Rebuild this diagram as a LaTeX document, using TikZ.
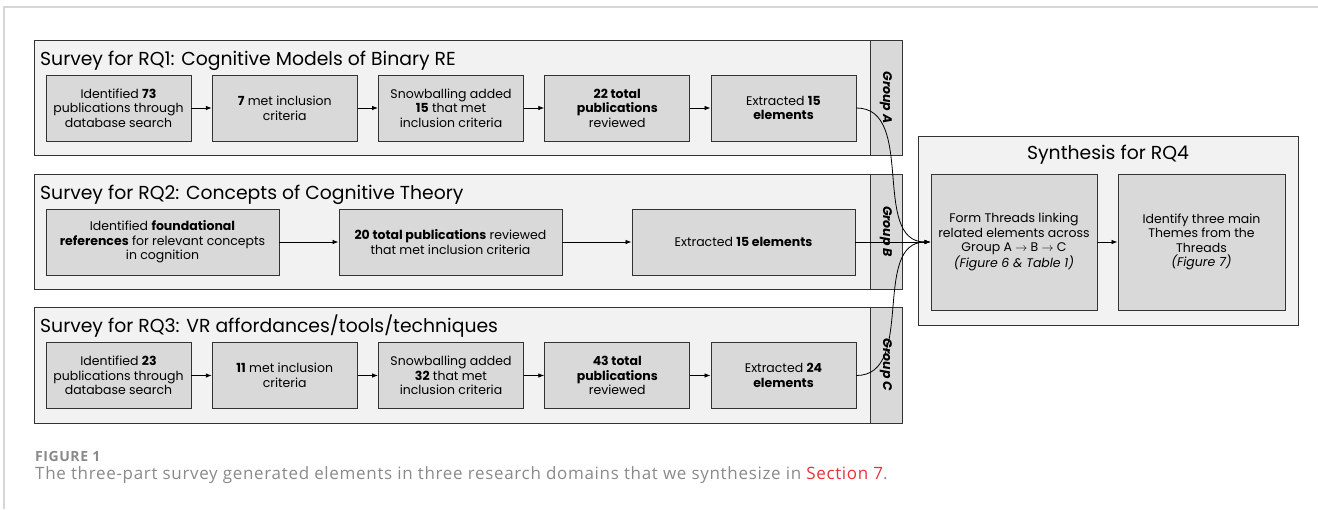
\documentclass[tikz,border=0pt]{standalone}
\usepackage{fontspec}
\setmainfont{Poppins}
\newfontfamily\capfont[LetterSpace=4]{Open Sans}
\usetikzlibrary{arrows.meta,positioning}

\definecolor{panelgray}{HTML}{F2F2F2}
\definecolor{boxgray}{HTML}{D9D9D9}
\definecolor{edgegray}{HTML}{333333}
\definecolor{framegray}{HTML}{D6D6D6}
\definecolor{capgray}{HTML}{8A8A8A}
\definecolor{linkred}{HTML}{E8333A}

\begin{document}
\begin{tikzpicture}[x=1pt,y=-1pt,
    panel/.style={draw=edgegray,fill=panelgray,line width=0.9pt,inner sep=0pt},
    stage/.style={draw=edgegray,fill=boxgray,line width=0.9pt,align=center,inner sep=2pt,
      minimum height=66pt,font=\fontsize{12.5}{14.6}\selectfont},
    tab/.style={draw=edgegray,fill=boxgray,line width=0.9pt,rotate=-90,minimum height=32pt,
      inner sep=0pt,font=\fontsize{12.5}{14}\selectfont\bfseries\itshape},
    head/.style={anchor=base west,inner sep=0pt,font=\fontsize{18.8}{20}\selectfont},
    flow/.style={-{Latex[length=6pt,width=4.5pt]},line width=0.8pt,draw=black}]
  \useasboundingbox (0,0) rectangle (1318,509);
  \draw[framegray,line width=1.5pt] (4,509) -- (4,7) -- (1318,7);

  \def\xstep{166.25}

  % three surveys
  \node[panel,minimum width=868pt,minimum height=115pt] (rq1) at (468,97.5) {};
  \node[panel,minimum width=868pt,minimum height=115pt] (rq2) at (468,231.5) {};
  \node[panel,minimum width=868pt,minimum height=116pt] (rq3) at (468,365) {};
  \node[head] at (40,65) {Survey for RQ1: Cognitive Models of Binary RE};
  \node[head] at (40,199) {Survey for RQ2: Concepts of Cognitive Theory};
  \node[head] at (40,332) {Survey for RQ3: VR affordances/tools/techniques};

  \node[tab,minimum width=115pt] (ga) at (886,97.5) {Group A};
  \node[tab,minimum width=115pt] (gb) at (886,231.5) {Group B};
  \node[tab,minimum width=116pt] (gc) at (886,365) {Group C};

  \foreach \txt [count=\i] in {{Identified \textbf{73}\\publications through\\database search},
      {\textbf{7} met inclusion\\criteria},
      {Snowballing added\\\textbf{15} that met\\inclusion criteria},
      {\textbf{22 total}\\\textbf{publications}\\reviewed},
      {Extracted \textbf{15}\\\textbf{elements}}}
    \node[stage,minimum width=145pt] (a\i) at ({118.5+\xstep*(\i-1)},108) {\txt};

  \node[stage,minimum width=233pt] (b1) at (162.5,242)
    {Identified \textbf{foundational}\\\textbf{references} for relevant concepts\\in cognition};
  \node[stage,minimum width=223pt] (b2) at (450.5,242)
    {\textbf{20 total publications} reviewed\\that met inclusion criteria};
  \node[stage,minimum width=223pt] (b3) at (743.5,242) {Extracted \textbf{15 elements}};

  \foreach \txt [count=\i] in {{Identified \textbf{23}\\publications through\\database search},
      {\textbf{11} met inclusion\\criteria},
      {Snowballing added\\\textbf{32} that met\\inclusion criteria},
      {\textbf{43 total}\\\textbf{publications}\\reviewed},
      {Extracted \textbf{24}\\\textbf{elements}}}
    \node[stage,minimum width=145pt] (c\i) at ({118.5+\xstep*(\i-1)},375.5) {\txt};

  \foreach \i [evaluate=\i as \j using int(\i+1)] in {1,...,4} {
    \draw[flow] (a\i) -- (a\j);
    \draw[flow] (c\i) -- (c\j);
  }
  \draw[flow] (b1) -- (b2);
  \draw[flow] (b2) -- (b3);

  % synthesis
  \node[panel,minimum width=380pt,minimum height=189pt] (syn) at (1108,230.5) {};
  \node[inner sep=0pt,font=\fontsize{18.8}{20}\selectfont] at (1108,155) {Synthesis for RQ4};
  \node[stage,minimum width=166pt,minimum height=136pt] (s1) at (1014,242)
    {Form Threads linking\\related elements across\\Group A $\rightarrow$ B $\rightarrow$ C\\\textit{(Figure 6 \& Table 1)}};
  \node[stage,minimum width=167pt,minimum height=136pt] (s2) at (1201.5,242)
    {Identify three main\\Themes from the\\Threads\\\textit{(Figure 7)}};
  \draw[flow] (s1) -- (s2);

  \draw[flow] (a5.east) to[out=0,in=180] (s1.west);
  \draw[flow] (b3.east) -- (s1.west);
  \draw[flow] (c5.east) to[out=0,in=180] (s1.west);

  % caption
  \node[anchor=base west,inner sep=0pt,text=capgray,font=\capfont\bfseries\fontsize{14}{16}\selectfont]
    (fig) at (35,461) {FIGURE 1};
  \node[anchor=base west,inner sep=0pt,text=capgray,font=\capfont\fontsize{17}{19}\selectfont]
    (cap) at (35,479) {The three-part survey generated elements in three research domains that we synthesize in \textcolor{linkred}{Section 7}.};
\end{tikzpicture}
\end{document}
